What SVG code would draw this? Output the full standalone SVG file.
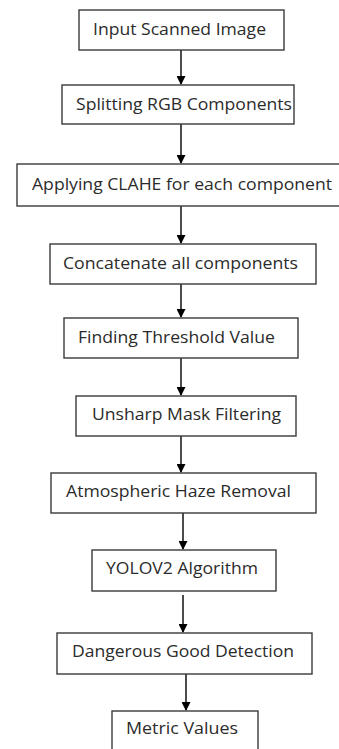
<svg xmlns="http://www.w3.org/2000/svg" width="339" height="749" viewBox="0 0 339 749">
<style>
rect.n{fill:#fff;stroke:#3a3a3a;stroke-width:1.4}
text{font-family:"Open Sans","Liberation Sans",sans-serif;font-size:16.5px;fill:#2b2b2b}
#connectors line{stroke:#000;stroke-width:1.4;marker-end:url(#ah)}
</style>
<defs>
<marker id="ah" markerUnits="userSpaceOnUse" markerWidth="9" markerHeight="9" viewBox="0 0 9 9" refX="8" refY="4.5" orient="auto">
<path d="M0,0 L9,4.5 L0,9 Z" fill="#000"/>
</marker>
</defs>
<rect width="339" height="749" fill="#fff"/>
<g id="connectors">
<line x1="181" y1="50" x2="181" y2="84"/>
<line x1="181" y1="124" x2="181" y2="163"/>
<line x1="181" y1="206" x2="181" y2="243"/>
<line x1="181" y1="284" x2="181" y2="317"/>
<line x1="181" y1="358" x2="181" y2="395"/>
<line x1="181" y1="436" x2="181" y2="472"/>
<line x1="183" y1="513" x2="183" y2="549"/>
<line x1="183" y1="595" x2="183" y2="632"/>
<line x1="186" y1="674" x2="186" y2="710"/>
</g>
<g id="n1"><rect class="n" x="79" y="10" width="205" height="40"/><text x="93" y="35" textLength="173" lengthAdjust="spacingAndGlyphs">Input Scanned Image</text></g>
<g id="n2"><rect class="n" x="62" y="85" width="232" height="39"/><text x="76" y="110" textLength="216" lengthAdjust="spacingAndGlyphs">Splitting RGB Components</text></g>
<g id="n3"><rect class="n" x="17" y="164" width="324" height="42"/><text x="32" y="190" textLength="300" lengthAdjust="spacingAndGlyphs">Applying CLAHE for each component</text></g>
<g id="n4"><rect class="n" x="50" y="244" width="266" height="40"/><text x="63" y="269" textLength="235" lengthAdjust="spacingAndGlyphs">Concatenate all components</text></g>
<g id="n5"><rect class="n" x="64" y="318" width="234" height="40"/><text x="78" y="343" textLength="197" lengthAdjust="spacingAndGlyphs">Finding Threshold Value</text></g>
<g id="n6"><rect class="n" x="76" y="396" width="220" height="40"/><text x="92" y="420" textLength="189" lengthAdjust="spacingAndGlyphs">Unsharp Mask Filtering</text></g>
<g id="n7"><rect class="n" x="51" y="473" width="265" height="40"/><text x="66" y="497" textLength="225" lengthAdjust="spacingAndGlyphs">Atmospheric Haze Removal</text></g>
<g id="n8"><rect class="n" x="92" y="550" width="184" height="41"/><text x="106" y="574" textLength="152" lengthAdjust="spacingAndGlyphs">YOLOV2 Algorithm</text></g>
<g id="n9"><rect class="n" x="57" y="633" width="255" height="41"/><text x="72" y="657" textLength="222" lengthAdjust="spacingAndGlyphs">Dangerous Good Detection</text></g>
<g id="n10"><rect class="n" x="112" y="711" width="146" height="60"/><text x="126" y="734" textLength="112" lengthAdjust="spacingAndGlyphs">Metric Values</text></g>
</svg>
